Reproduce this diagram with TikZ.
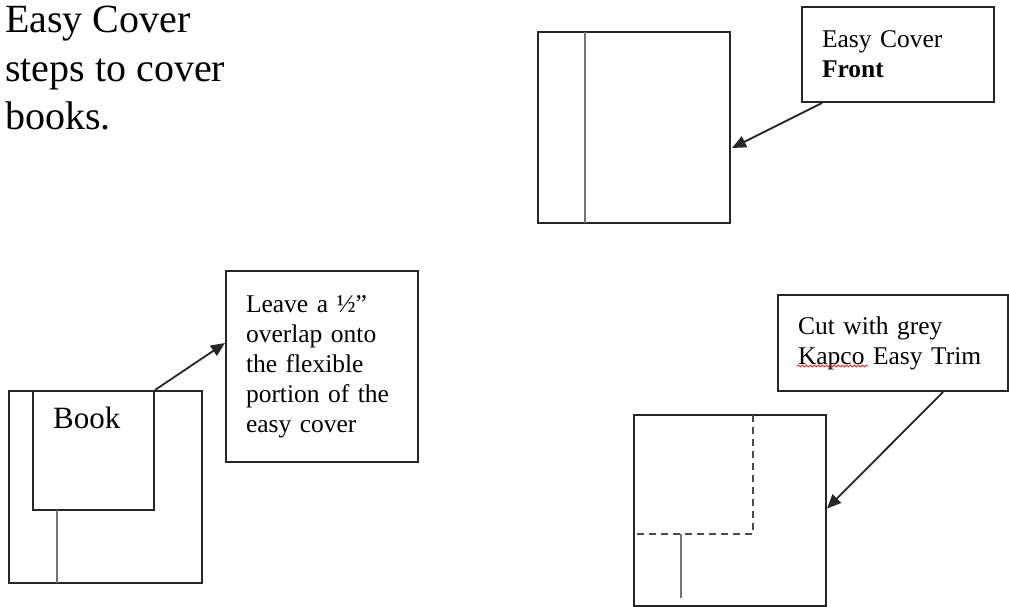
\documentclass[tikz,border=0pt]{standalone}
\usepackage{fontspec}
\setmainfont{Liberation Serif}
\usetikzlibrary{calc,arrows.meta,positioning,decorations.pathmorphing}

\begin{document}
\begin{tikzpicture}[x=1pt,y=-1pt,>={Triangle[length=14pt,width=12pt]},
		sheet/.style={draw=black!85,line width=2pt,inner sep=0pt},
		note/.style={draw=black!85,line width=2pt,align=left,inner xsep=20pt,font=\fontsize{25.5}{30}\selectfont},
		spine/.style={draw=black!55,line width=2.2pt},
		trimline/.style={draw=black!70,line width=2pt,dash pattern=on 7pt off 5pt},
		pointer/.style={->,draw=black!85,line width=1.8pt}]
		\useasboundingbox (0,0) rectangle (1009,607);
		
		\node[align=left,anchor=north west,inner sep=0pt,font=\fontsize{40}{48.5}\selectfont] (title) at (5,6) {Easy Cover\\steps to cover\\books.};
		
		\node[sheet,minimum width=192pt,minimum height=191pt] (cover) at (634,127.5) {};
		\node[note,text width=152pt,minimum height=95pt] (frontnote) at (898,54.5) {Easy Cover\\\textbf{Front}};
		\draw[spine] (585,32) -- (585,223);
		
		\node[sheet,minimum width=193pt,minimum height=192pt] (jacket) at (105.5,487) {};
		\node[sheet,minimum width=121pt,minimum height=119pt] (book) at (93.5,450.5) {};
		\node[anchor=base west,inner sep=0pt,font=\fontsize{31}{36}\selectfont] (booklabel) at (53,428) {Book};
		\node[note,text width=152pt,minimum height=191pt] (leavenote) at (322,366.5) {Leave a ½”\\overlap onto\\the flexible\\portion of the\\easy cover};
		\draw[spine] (57,510) -- (57,583);
		
		\node[sheet,minimum width=192pt,minimum height=191pt] (trim) at (730,510.5) {};
		\node[note,text width=190pt,minimum height=96pt] (cutnote) at (893,343) {Cut with grey\\Kapco Easy Trim};
		\draw[trimline] (753,415) -- (753,534) -- (634,534);
		\draw[spine] (681,534) -- (681,598);
		\draw[red,line width=0.7pt,decorate,decoration={snake,amplitude=1pt,segment length=4pt}] (797,366) -- (868,366);
		
		\draw[pointer] ($(frontnote.south west)+(21,0)$) -- ($(cover.east)+(1,20.5)$);
		\draw[pointer] (book.north east) -- ($(leavenote.west)+(0,-23.5)$);
		\draw[pointer] ($(cutnote.south)+(50,0)$) -- ($(trim.east)+(0,-2)$);
\end{tikzpicture}
\end{document}
